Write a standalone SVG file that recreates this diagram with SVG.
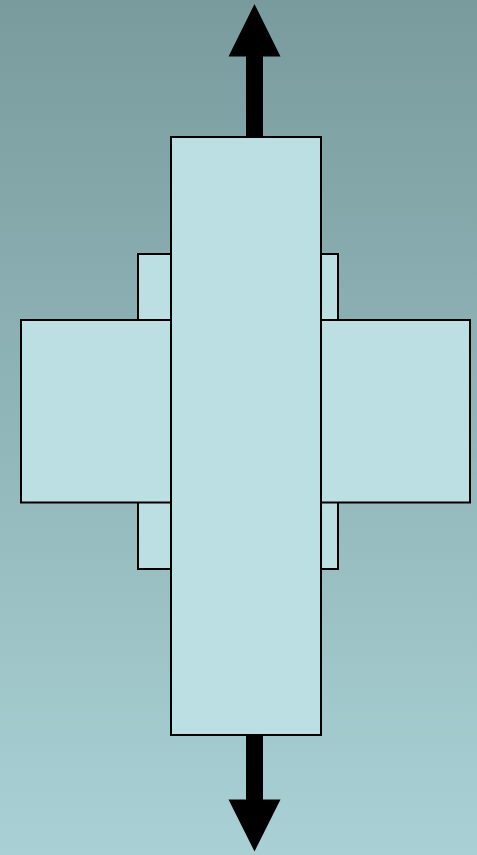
<svg xmlns="http://www.w3.org/2000/svg" width="477" height="855" viewBox="0 0 477 855">
<defs>
<linearGradient id="bg" x1="0" y1="0" x2="0" y2="1">
<stop offset="0" stop-color="#799b9d"/>
<stop offset="1" stop-color="#a9d1d5"/>
</linearGradient>
<style>
.box{fill:#bcdfe3;stroke:#000;stroke-width:2}
.arrow{fill:#000;stroke:none}
</style>
</defs>
<rect x="0" y="0" width="477" height="855" fill="url(#bg)"/>
<g id="connectors">
<polygon class="arrow" points="254.5,4 228.5,56.5 246,56.5 246,138 263,138 263,56.5 280.5,56.5"/>
<polygon class="arrow" points="254.5,851.5 228.5,799.5 246,799.5 246,734 263,734 263,799.5 280.5,799.5"/>
</g>
<g id="back">
<rect class="box" x="138" y="254" width="200" height="315"/>
</g>
<g id="left">
<rect class="box" x="21" y="320" width="150" height="182.5"/>
</g>
<g id="right">
<rect class="box" x="321" y="320" width="149" height="182.5"/>
</g>
<g id="center">
<rect class="box" x="171" y="137" width="150" height="598"/>
</g>
</svg>
